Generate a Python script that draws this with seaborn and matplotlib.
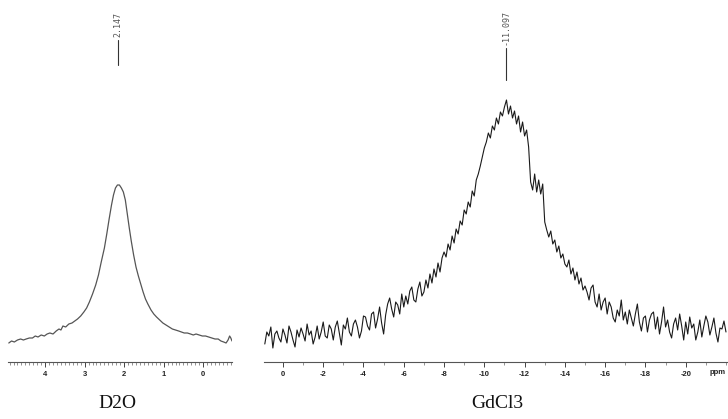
import numpy as np
import pandas as pd
import matplotlib
matplotlib.use("Agg")
import matplotlib.pyplot as plt
import seaborn as sns
from matplotlib.ticker import MultipleLocator, FixedLocator

sns.set_theme(style="white")
plt.rcParams['font.family'] = ['Liberation Sans', 'DejaVu Sans']
plt.rcParams['axes.unicode_minus'] = False

# D2O spectrum (ppm, intensity in arbitrary units)
d2o_ppm = [4.92, 4.85, 4.78, 4.70, 4.62, 4.55, 4.48, 4.40, 4.32, 4.25,
           4.18, 4.10, 4.02, 3.95, 3.88, 3.80, 3.72, 3.65, 3.60, 3.55,
           3.48, 3.40, 3.32, 3.25, 3.18, 3.10, 3.02, 2.95, 2.88, 2.80,
           2.72, 2.65, 2.58, 2.50, 2.44, 2.38, 2.32, 2.27, 2.22, 2.17,
           2.12, 2.07, 2.02, 1.97, 1.92, 1.87, 1.82, 1.76, 1.70, 1.64,
           1.58, 1.52, 1.46, 1.40, 1.32, 1.25, 1.18, 1.10, 1.02, 0.94,
           0.86, 0.78, 0.70, 0.62, 0.55, 0.48, 0.40, 0.32, 0.25, 0.18,
           0.10, 0.02, -0.06, -0.14, -0.22, -0.30, -0.38, -0.45, -0.52, -0.58,
           -0.63, -0.67, -0.70, -0.73]
d2o_int = [19, 21, 20, 22, 23, 22, 23, 24, 24, 26,
           25, 27, 26, 28, 29, 28, 31, 33, 32, 36,
           35, 38, 39, 41, 43, 46, 50, 54, 60, 68,
           77, 87, 100, 114, 128, 143, 157, 167, 174, 177,
           177, 174, 170, 162, 148, 134, 121, 107, 95, 86,
           78, 70, 63, 58, 52, 48, 45, 42, 39, 37,
           35, 33, 32, 31, 30, 29, 29, 28, 27, 28,
           27, 26, 26, 25, 24, 23, 23, 21, 20, 19,
           22, 26, 24, 21]

# GdCl3 spectrum, 0.1 ppm steps from 0.9 down to -22.0
gd_ppm = np.round(np.arange(0.9, -22.05, -0.1), 1)
gd_int = [18, 30, 26, 35, 14, 28, 31, 24, 20, 33,
          27, 19, 36, 30, 22, 15, 32, 25, 34, 28,
          21, 38, 27, 31, 18, 25, 36, 23, 30, 40,
          26, 24, 37, 33, 22, 35, 41, 29, 17, 37,
          33, 44, 30, 26, 38, 42, 35, 24, 31, 46,
          45, 36, 32, 48, 50, 34, 43, 55, 39, 28,
          47, 58, 64, 53, 45, 60, 57, 48, 68, 55,
          66, 58, 71, 75, 62, 60, 73, 80, 66, 70,
          82, 74, 88, 79, 93, 85, 99, 90, 104, 110,
          105, 118, 112, 126, 119, 133, 128, 141, 137, 152,
          148, 160, 155, 171, 166, 182, 188, 196, 205, 214,
          220, 229, 224, 236, 232, 244, 238, 250, 246, 255,
          262, 248, 256, 244, 251, 238, 246, 230, 240, 226,
          232, 215, 180, 172, 188, 170, 182, 168, 178, 140,
          132, 125, 131, 118, 122, 110, 116, 104, 108, 98,
          95, 102, 88, 94, 82, 90, 78, 84, 72, 76,
          70, 62, 74, 77, 60, 55, 68, 52, 60, 64,
          48, 60, 55, 44, 40, 52, 46, 62, 42, 50,
          38, 52, 44, 36, 48, 58, 40, 31, 44, 46,
          30, 42, 48, 50, 33, 45, 28, 40, 55, 35,
          42, 30, 24, 38, 44, 32, 48, 36, 22, 40,
          28, 45, 34, 38, 22, 30, 42, 25, 36, 46,
          40, 27, 35, 44, 29, 20, 34, 33, 41, 30]

d2o_ticks = [4, 3, 2, 1, 0]
gd_ticks = [0, -2, -4, -6, -8, -10, -12, -14, -16, -18, -20]
peaks = {"D2O": 2.147, "GdCl3": -11.097}

df_d2o = pd.DataFrame({"ppm": d2o_ppm, "intensity": d2o_int})
df_gd = pd.DataFrame({"ppm": gd_ppm, "intensity": gd_int})

fig = plt.figure(figsize=(7.28, 4.19), dpi=100)
ax1 = fig.add_axes([8/728, 57/419, 224/728, 362/419])
ax2 = fig.add_axes([264/728, 57/419, 464/728, 362/419])

sns.lineplot(data=df_d2o, x="ppm", y="intensity", ax=ax1, color="#555555",
             linewidth=0.9, estimator=None)
sns.lineplot(data=df_gd, x="ppm", y="intensity", ax=ax2, color="#1a1a1a",
             linewidth=0.8, estimator=None)

ax1.set_xlim(4.94, -0.73)
ax2.set_xlim(0.94, -22.1)
ax1.xaxis.set_major_locator(FixedLocator(d2o_ticks))
ax1.xaxis.set_minor_locator(MultipleLocator(0.1))
ax2.xaxis.set_major_locator(FixedLocator(gd_ticks))
ax2.xaxis.set_minor_locator(MultipleLocator(1))

for ax in (ax1, ax2):
    ax.set_ylim(0, 362)
    ax.set_xlabel("")
    ax.set_ylabel("")
    ax.set_yticks([])
    for s in ("left", "right", "top"):
        ax.spines[s].set_visible(False)
    ax.spines["bottom"].set_color("#555555")
    ax.spines["bottom"].set_linewidth(0.8)
    ax.tick_params(axis="x", which="major", bottom=True, length=3.5, width=0.7,
                   color="#444444", labelsize=5.5, pad=3, labelcolor="#222222")
    ax.tick_params(axis="x", which="minor", bottom=True, length=1.8, width=0.5,
                   color="#666666")
    for lbl in ax.get_xticklabels():
        lbl.set_fontweight("bold")

ax2.text(0.995, -0.03, "ppm", transform=ax2.transAxes, ha="right", va="center",
         fontsize=5.5, fontweight="bold", color="#222222")

# peak markers
ax1.plot([peaks["D2O"]] * 2, [297, 322], color="#333333", lw=0.8)
ax1.text(peaks["D2O"], 325, "2.147", rotation=90, ha="center", va="bottom",
         fontsize=6, family="DejaVu Sans Mono", color="#555555")
ax2.plot([peaks["GdCl3"]] * 2, [282, 314], color="#333333", lw=0.8)
ax2.text(peaks["GdCl3"], 317, "-11.097", rotation=90, ha="center", va="bottom",
         fontsize=6, family="DejaVu Sans Mono", color="#555555")

fig.text(117/728, 1 - 403/419, "D2O", ha="center", va="center", fontsize=14,
         family=["Liberation Serif", "DejaVu Serif"], color="#111111")
fig.text(497/728, 1 - 403/419, "GdCl3", ha="center", va="center", fontsize=14,
         family=["Liberation Serif", "DejaVu Serif"], color="#111111")

fig.savefig("out.png", dpi=100)
